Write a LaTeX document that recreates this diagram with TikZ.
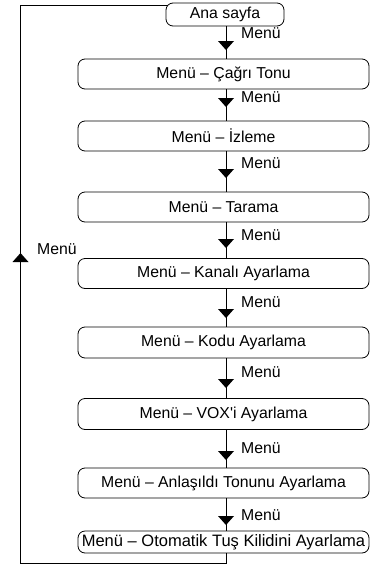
\documentclass[tikz,border=0pt]{standalone}
\usepackage{fontspec}
\setmainfont{Liberation Sans}
\begin{document}
\begin{tikzpicture}[x=1pt,y=-1pt,
  txt/.style={font=\fontsize{15.8}{18}\selectfont},
  box/.style={txt, draw, line width=0.8pt, rounded corners=7pt, minimum width=291pt, minimum height=30pt, inner sep=0pt},
  lbl/.style={txt, anchor=west, inner sep=0pt},
  conn/.style={line width=0.8pt},
  tri/.style={fill=black}]
\useasboundingbox (0,0) rectangle (370,568);
\node[box, minimum width=118pt, minimum height=23pt] (ana) at (225,14.5) {Ana sayfa};
\node[box] (n1) at (223.5,74) {Menü – Çağrı Tonu};
\node[box] (n2) at (223.5,136) {Menü – İzleme};
\node[box] (n3) at (223.5,207) {Menü – Tarama};
\node[box] (n4) at (223.5,273.5) {Menü – Kanalı Ayarlama};
\node[box, minimum height=31pt] (n5) at (223.5,342.5) {Menü – Kodu Ayarlama};
\node[box, minimum height=31pt] (n6) at (223.5,414) {Menü – VOX\textquotesingle i Ayarlama};
\node[box] (n7) at (223.5,483) {Menü – Anlaşıldı Tonunu Ayarlama};
\node[box, minimum height=22pt, font=\fontsize{16.5}{18}\selectfont] (n8) at (223.5,542) {Menü – Otomatik Tuş Kilidini Ayarlama};
\coordinate (vx) at (226,0);
\draw[conn] (ana.south -| vx) -- (n1.north -| vx);
\draw[conn] (n1.south -| vx) -- (n2.north -| vx);
\draw[conn] (n2.south -| vx) -- (n3.north -| vx);
\draw[conn] (n3.south -| vx) -- (n4.north -| vx);
\draw[conn] (n4.south -| vx) -- (n5.north -| vx);
\draw[conn] (n5.south -| vx) -- (n6.north -| vx);
\draw[conn] (n6.south -| vx) -- (n7.north -| vx);
\draw[conn] (n7.south -| vx) -- (n8.north -| vx);
\foreach \t in {50,107,178,248,318,388,460,525}
  \fill[tri] (218,\t-9) -- (234,\t-9) -- (226,\t) -- cycle;
\node[lbl] (m1) at (241,33) {Menü};
\node[lbl] (m2) at (241,97) {Menü};
\node[lbl] (m3) at (241,163) {Menü};
\node[lbl] (m4) at (241,235) {Menü};
\node[lbl] (m5) at (241,302) {Menü};
\node[lbl] (m6) at (241,372) {Menü};
\node[lbl] (m7) at (241,448) {Menü};
\node[lbl] (m8) at (241,515) {Menü};
\coordinate (bl) at (20.5,563);
\coordinate (tl) at (20.5,5);
\coordinate (tj) at (168.3,5);
\draw[conn] (n8.south -| vx) |- (bl) -- (tl) -- (tj);
\fill[tri] (12.5,262) -- (28.5,262) -- (20.5,253) -- cycle;
\node[lbl] (mback) at (37,249) {Menü};
\end{tikzpicture}
\end{document}
